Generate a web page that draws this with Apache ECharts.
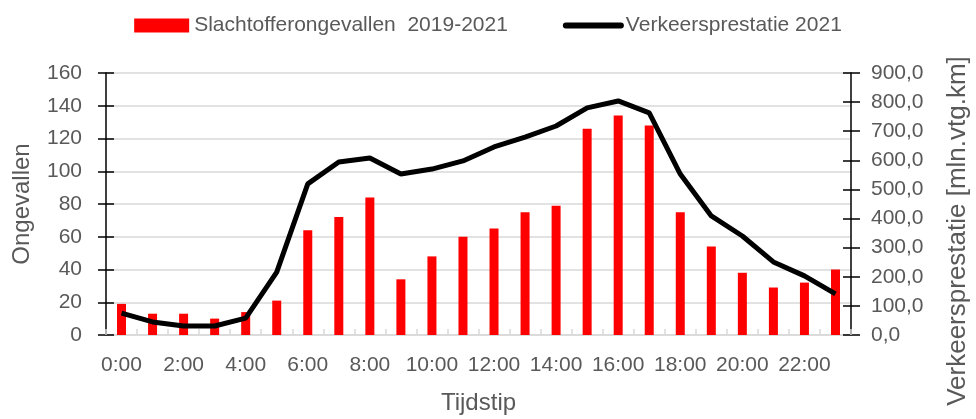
<!DOCTYPE html>
<html>
<head>
<meta charset="utf-8">
<script src="https://cdn.jsdelivr.net/npm/echarts@6/dist/echarts.min.js"></script>
<style>
  html, body { margin: 0; padding: 0; background: #fff; }
  #chart { width: 976px; height: 419px; }
</style>
</head>
<body>
<div id="chart"></div>
<script>
const hours = ['0:00', '1:00', '2:00', '3:00', '4:00', '5:00', '6:00', '7:00', '8:00', '9:00', '10:00', '11:00',
  '12:00', '13:00', '14:00', '15:00', '16:00', '17:00', '18:00', '19:00', '20:00', '21:00', '22:00', '23:00']
const ongevallen = [19, 13, 13, 10, 14, 21, 64, 72, 84, 34, 48, 60, 65, 75, 79, 126, 134, 128, 75, 54, 38, 29, 32, 40]
const verkeer = [75, 45, 31, 31, 58, 216, 519, 594, 608, 553, 570, 598, 646, 680, 718, 780, 804, 763, 553, 409, 340, 251, 203, 141]

const FONT = 'Liberation Sans'
const GREY = '#595959'

const chart = echarts.init(document.getElementById('chart'))

// extra axes only to draw the inner half of the crossing tick marks
const crossTicks = (position, max, interval) => ({
  type: 'value', position, min: 0, max, interval,
  axisLine: { show: false },
  axisTick: { show: true, inside: true, length: 8, lineStyle: { color: '#000', width: 1.5 } },
  axisLabel: { show: false },
  splitLine: { show: false }
})

chart.setOption({
  animation: false,
  textStyle: { fontFamily: FONT },
  legend: {
    top: 10,
    left: 'center',
    itemWidth: 55,
    itemHeight: 14,
    itemGap: 55,
    textStyle: { fontSize: 21, color: GREY, fontFamily: FONT },
    data: [
      { name: 'Slachtofferongevallen  2019-2021', icon: 'rect' },
      {
        name: 'Verkeersprestatie 2021',
        itemStyle: { opacity: 0 },
        lineStyle: { color: '#000', width: 6, cap: 'round' }
      }
    ]
  },
  grid: { left: 106, right: 125, top: 73, bottom: 84, outerBoundsMode: 'none' },
  xAxis: {
    type: 'category',
    data: hours,
    name: 'Tijdstip',
    nameLocation: 'middle',
    nameGap: 56,
    nameTextStyle: { fontSize: 24, color: GREY, fontFamily: FONT },
    axisLine: { lineStyle: { color: '#d9d9d9', width: 1.5 } },
    axisTick: { show: true, inside: true, length: 6, interval: 0, lineStyle: { color: '#d9d9d9', width: 1.5 } },
    axisLabel: { interval: 1, fontSize: 21, color: GREY, margin: 20, fontFamily: FONT }
  },
  yAxis: [
    {
      type: 'value', position: 'left', min: 0, max: 160, interval: 20,
      name: 'Ongevallen',
      nameLocation: 'middle',
      nameGap: 72,
      nameTextStyle: { fontSize: 24, color: GREY, fontFamily: FONT },
      axisLine: { show: true, lineStyle: { color: '#000', width: 1.5 } },
      axisTick: { show: true, length: 8, lineStyle: { color: '#000', width: 1.5 } },
      axisLabel: { fontSize: 21, color: GREY, margin: 24, fontFamily: FONT },
      splitLine: { lineStyle: { color: '#d9d9d9', width: 1.5 } }
    },
    {
      type: 'value', position: 'right', min: 0, max: 900, interval: 100,
      axisLine: { show: true, lineStyle: { color: '#000', width: 1.5 } },
      axisTick: { show: true, length: 9, lineStyle: { color: '#000', width: 1.5 } },
      axisLabel: {
        fontSize: 21, color: GREY, margin: 20, fontFamily: FONT,
        formatter: v => v.toFixed(1).replace('.', ',')
      },
      splitLine: { show: false }
    },
    crossTicks('left', 160, 20),
    crossTicks('right', 900, 100)
  ],
  graphic: [{
    type: 'text',
    x: 958,
    y: 231,
    rotation: Math.PI / 2,
    style: {
      text: 'Verkeersprestatie [mln.vtg.km]',
      fill: GREY,
      font: '26px "Liberation Sans"',
      align: 'center',
      verticalAlign: 'middle'
    }
  }],
  series: [
    {
      name: 'Slachtofferongevallen  2019-2021',
      type: 'bar',
      data: ongevallen,
      barWidth: 9,
      itemStyle: { color: '#ff0000' }
    },
    {
      name: 'Verkeersprestatie 2021',
      type: 'line',
      yAxisIndex: 1,
      data: verkeer,
      symbol: 'none',
      lineStyle: { color: '#000', width: 5 },
      itemStyle: { color: '#000' }
    }
  ]
})
</script>
</body>
</html>
